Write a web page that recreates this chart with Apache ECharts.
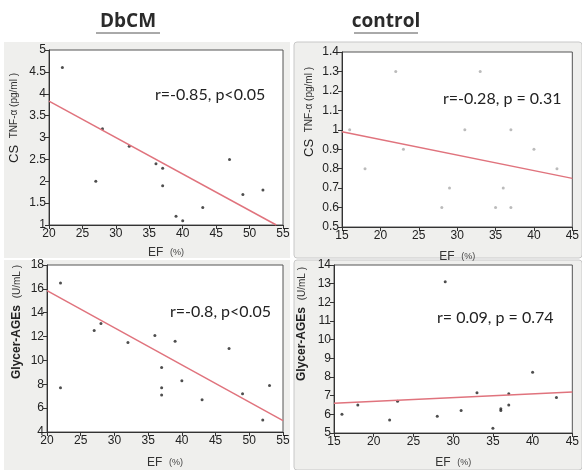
<!DOCTYPE html>
<html lang="en">
  <head>
    <meta charset="UTF-8" />
    <title>EF correlations</title>
    <script src="https://cdn.jsdelivr.net/npm/echarts@6/dist/echarts.min.js"></script>
    <style>
      html, body { margin: 0; padding: 0; background: #fff; }
      #chart { width: 582px; height: 470px; }
    </style>
  </head>
  <body>
    <div id="chart"></div>
    <script>
      // DbCM: EF vs TNF-a
      const efDbcmTnf = [22, 27, 28, 32, 36, 37, 37, 39, 40, 43, 47, 49, 52];
      const tnfDbcm = [4.6, 2.0, 3.2, 2.8, 2.4, 2.3, 1.9, 1.2, 1.1, 1.4, 2.5, 1.7, 1.8];
      const tnfDbcmFit = [[20, 3.83], [54, 1.0]];

      // control: EF vs TNF-a
      const efCtrlTnf = [16, 18, 22, 23, 28, 29, 31, 33, 35, 36, 37, 37, 40, 43];
      const tnfCtrl = [1.0, 0.8, 1.3, 0.9, 0.6, 0.7, 1.0, 1.3, 0.6, 0.7, 1.0, 0.6, 0.9, 0.8];
      const tnfCtrlFit = [[15, 0.99], [45, 0.75]];

      // DbCM: EF vs Glycer-AGEs
      const efDbcmAge = [22, 22, 27, 28, 32, 36, 37, 37, 37, 39, 40, 43, 47, 49, 52, 53];
      const ageDbcm = [16.5, 7.7, 12.5, 13.1, 11.5, 12.1, 9.4, 7.7, 7.1, 11.6, 8.3, 6.7, 11.0, 7.2, 5.0, 7.9];
      const ageDbcmFit = [[20, 15.85], [55, 4.95]];

      // control: EF vs Glycer-AGEs
      const efCtrlAge = [16, 18, 22, 23, 28, 29, 31, 33, 35, 36, 36, 37, 37, 40, 43];
      const ageCtrl = [6.0, 6.5, 5.7, 6.7, 5.9, 13.1, 6.2, 7.15, 5.25, 6.3, 6.2, 7.1, 6.5, 8.25, 6.9];
      const ageCtrlFit = [[15, 6.6], [45, 7.2]];

      const groupTitles = ["DbCM", "control"];
      const statTexts = ["r=-0.85, p<0.05", "r=-0.28, p = 0.31", "r=-0.8, p<0.05", "r= 0.09, p = 0.74"];

      const chart = echarts.init(document.getElementById("chart"));

      const tickFont = { fontFamily: "Liberation Sans, Arial", fontSize: 12, color: "#222" };
      const axisLine = { lineStyle: { color: "#333", width: 1 } };

      function xAxisFor(idx, min, max, gap) {
        return {
          gridIndex: idx, type: "value", min: min, max: max, interval: 5,
          splitLine: { show: false },
          axisLine: axisLine,
          axisTick: { length: 4, lineStyle: { color: "#333" } },
          axisLabel: Object.assign({ margin: 3 }, tickFont),
          name: "{a|EF}  {b|(%)}",
          nameLocation: "middle",
          nameGap: gap,
          nameTextStyle: {
            rich: {
              a: { fontFamily: "Liberation Sans, Arial", fontSize: 12, color: "#333" },
              b: { fontFamily: "Liberation Sans, Arial", fontSize: 9, color: "#444" }
            }
          }
        };
      }

      function yAxisFor(idx, min, max, step) {
        return {
          gridIndex: idx, type: "value", min: min, max: max, interval: step,
          splitLine: { show: false },
          axisLine: axisLine,
          axisTick: { length: 4, lineStyle: { color: "#333" } },
          axisLabel: Object.assign({ margin: 3 }, tickFont)
        };
      }

      function pairs(xs, ys) {
        return xs.map((x, i) => [x, ys[i]]);
      }

      function scatter(idx, xs, ys, color) {
        return {
          type: "scatter", xAxisIndex: idx, yAxisIndex: idx,
          data: pairs(xs, ys), symbolSize: 3,
          itemStyle: { color: color }, silent: true
        };
      }

      function fitLine(idx, pts) {
        return {
          type: "line", xAxisIndex: idx, yAxisIndex: idx,
          data: pts, symbol: "none", silent: true,
          lineStyle: { color: "#e0737d", width: 1.5 }
        };
      }

      const statFont = "Lato, 'Open Sans', sans-serif";

      function yTitle(x, y, big, small, bold) {
        return {
          type: "text", x: x, y: y, rotation: Math.PI / 2,
          style: {
            text: "{a|" + big + "}  {b|" + small + "}",
            align: "center", verticalAlign: "middle",
            rich: {
              a: { fontFamily: "Liberation Sans, Arial", fontSize: bold ? 12 : 13, fontWeight: bold ? "bold" : "normal", fill: "#222" },
              b: { fontFamily: "Liberation Sans, Arial", fontSize: 10, fill: "#333" }
            }
          }
        };
      }

      const option = {
        animation: false,
        graphic: [
          { type: "rect", shape: { x: 4, y: 42, width: 286, height: 216 }, style: { fill: "#efefed" }, z: -10 },
          { type: "rect", shape: { x: 294, y: 42, width: 288, height: 216, r: 3 }, style: { fill: "#efefed", stroke: "#c8c8c8", lineWidth: 1 }, z: -10 },
          { type: "rect", shape: { x: 4, y: 260, width: 286, height: 210 }, style: { fill: "#efefed" }, z: -10 },
          { type: "rect", shape: { x: 294, y: 260, width: 288, height: 210, r: 3 }, style: { fill: "#efefed", stroke: "#c8c8c8", lineWidth: 1 }, z: -10 },
          { type: "text", x: 128, y: 22, style: { text: groupTitles[0], align: "center", verticalAlign: "middle", fontFamily: "'Open Sans', sans-serif", fontWeight: "bold", fontSize: 19, fill: "#2b2b2b" } },
          { type: "line", shape: { x1: 96, y1: 33, x2: 160, y2: 33 }, style: { stroke: "#555", lineWidth: 1 } },
          { type: "text", x: 386, y: 22, style: { text: groupTitles[1], align: "center", verticalAlign: "middle", fontFamily: "'Open Sans', sans-serif", fontWeight: "bold", fontSize: 19, fill: "#2b2b2b" } },
          { type: "line", shape: { x1: 354, y1: 33, x2: 418, y2: 33 }, style: { stroke: "#555", lineWidth: 1 } },
          { type: "text", x: 155, y: 95, style: { text: statTexts[0], verticalAlign: "middle", fontFamily: statFont, fontSize: 16, fill: "#222" } },
          { type: "text", x: 443, y: 99, style: { text: statTexts[1], verticalAlign: "middle", fontFamily: statFont, fontSize: 16, fill: "#222" } },
          { type: "text", x: 170, y: 312, style: { text: statTexts[2], verticalAlign: "middle", fontFamily: statFont, fontSize: 16, fill: "#222" } },
          { type: "text", x: 437, y: 318, style: { text: statTexts[3], verticalAlign: "middle", fontFamily: statFont, fontSize: 16, fill: "#222" } },
          yTitle(14, 118, "CS", "TNF-α (pg/ml )", false),
          yTitle(309, 112, "CS", "TNF-α (pg/ml )", false),
          yTitle(17, 322, "Glycer-AGEs", "(U/mL )", true),
          yTitle(302, 324, "Glycer-AGEs", "(U/mL )", true)
        ],
        grid: [
          { left: 49, top: 50, width: 234, height: 175, show: true, backgroundColor: "#fff", borderColor: "#555", borderWidth: 1 },
          { left: 342, top: 52, width: 235, height: 175, show: true, backgroundColor: "#fff", borderColor: "#555", borderWidth: 1 },
          { left: 47, top: 265, width: 236, height: 177, show: true, backgroundColor: "#fff", borderColor: "#555", borderWidth: 1 },
          { left: 334, top: 265, width: 241, height: 181, show: true, backgroundColor: "#fff", borderColor: "#555", borderWidth: 1 }
        ],
        xAxis: [
          xAxisFor(0, 20, 55, 22),
          xAxisFor(1, 15, 45, 24),
          xAxisFor(2, 20, 55, 25),
          xAxisFor(3, 15, 45, 24)
        ],
        yAxis: [
          yAxisFor(0, 1, 5, 0.5),
          yAxisFor(1, 0.5, 1.4, 0.1),
          yAxisFor(2, 4, 18, 2),
          yAxisFor(3, 5, 14, 1)
        ],
        series: [
          fitLine(0, tnfDbcmFit),
          scatter(0, efDbcmTnf, tnfDbcm, "#222"),
          fitLine(1, tnfCtrlFit),
          scatter(1, efCtrlTnf, tnfCtrl, "#aaa"),
          fitLine(2, ageDbcmFit),
          scatter(2, efDbcmAge, ageDbcm, "#222"),
          fitLine(3, ageCtrlFit),
          scatter(3, efCtrlAge, ageCtrl, "#222")
        ]
      };

      chart.setOption(option);
    </script>
  </body>
</html>
